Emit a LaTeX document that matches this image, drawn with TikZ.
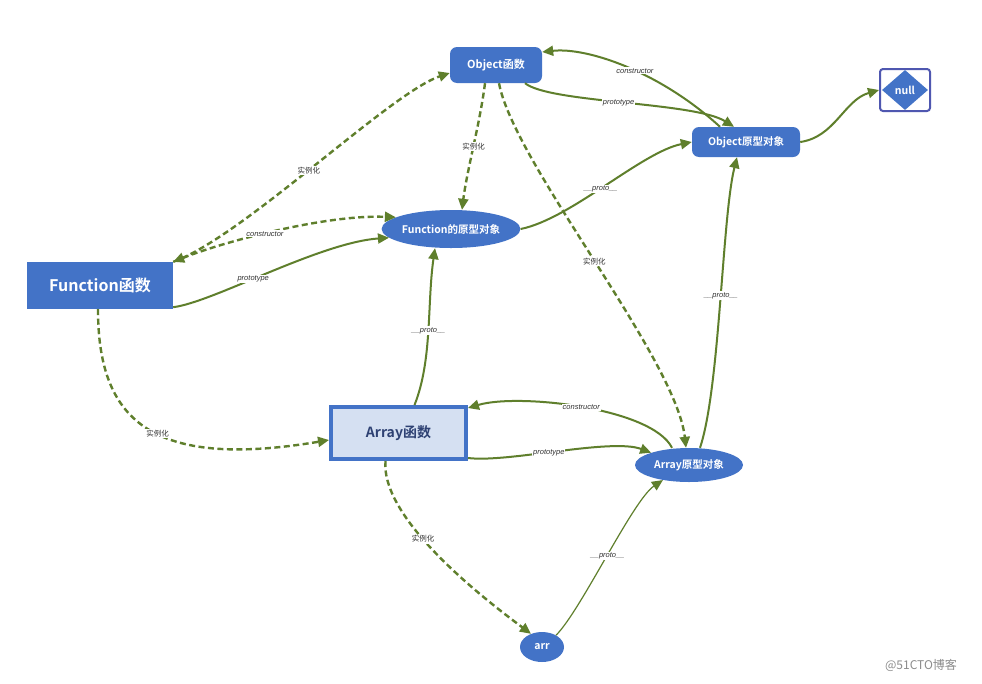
\documentclass[tikz,border=0pt]{standalone}
\usepackage{fontspec}
\setmainfont{Liberation Sans}
\newfontfamily\cjk{Noto Sans CJK SC}[BoldFont={Noto Sans CJK SC Bold}]
\usetikzlibrary{shapes.geometric,arrows.meta}
\definecolor{nblue}{HTML}{4373C7}
\definecolor{lgreen}{HTML}{5F7F2C}
\definecolor{afill}{HTML}{D5E0F2}
\definecolor{atext}{HTML}{2E4173}
\definecolor{nullborder}{HTML}{4F57B0}
\tikzset{
  rbox/.style={draw=none,fill=nblue,rounded corners=7pt,text=white,font=\cjk\bfseries\fontsize{11}{12}\selectfont,inner sep=0pt},
  ellnode/.style={ellipse,fill=nblue,text=white,font=\cjk\bfseries\fontsize{10.5}{12}\selectfont,inner sep=0pt},
  link/.style={lgreen,line width=2pt,-{Triangle[length=11pt,width=10pt]}},
  dlink/.style={link,line width=2.4pt,dash pattern=on 6pt off 3.5pt},
  lbl/.style={fill=white,inner sep=1pt,text=black!80,font=\fontsize{7.5}{8}\selectfont\itshape},
  clbl/.style={fill=white,inner sep=1pt,text=black!80,font=\cjk\fontsize{7.5}{8}\selectfont},
}
\begin{document}
\begin{tikzpicture}[x=1pt,y=-1pt]
\useasboundingbox[fill=white] (0,0) rectangle (982,683);
% nodes
\node[rbox,minimum width=92pt,minimum height=36pt] (ofun) at (496,65) {Object函数};
\node[rbox,minimum width=108pt,minimum height=30pt,font=\cjk\bfseries\fontsize{10.5}{12}\selectfont] (oproto) at (746,142) {Object原型对象};
\node[draw=nullborder,line width=2pt,rounded corners=3pt,minimum width=50pt,minimum height=42pt] (nullbox) at (905,90) {};
\node[diamond,fill=nblue,text=white,minimum width=46pt,minimum height=40pt,inner sep=0pt,font=\cjk\bfseries\fontsize{10.5}{12}\selectfont] (null) at (905,90) {null};
\node[ellnode,minimum width=136pt,minimum height=38pt] (fproto) at (451,229) {Function的原型对象};
\node[fill=nblue,text=white,minimum width=146pt,minimum height=47pt,inner sep=0pt,font=\cjk\bfseries\fontsize{16}{18}\selectfont] (ffun) at (100,285.5) {Function函数};
\node[draw=nblue,line width=4pt,fill=afill,text=atext,minimum width=135pt,minimum height=52pt,inner sep=0pt,font=\cjk\bfseries\fontsize{14}{16}\selectfont] (afun) at (398.5,433) {Array函数};
\node[ellnode,minimum width=108pt,minimum height=34pt] (aproto) at (689,465) {Array原型对象};
\node[ellnode,minimum width=44pt,minimum height=30pt] (arr) at (542,647) {arr};
\node[text=black!45,font=\cjk\fontsize{12}{14}\selectfont,inner sep=0pt] (wm) at (921,665) {@51CTO博客};
% connectors
\draw[link] ([xshift=-26pt]oproto.north) .. controls +(-60,-55) and +(45,-5) .. ([yshift=13pt]ofun.east)
  node[lbl,pos=0.45] {constructor};
\draw[link] ([xshift=29pt]ofun.south) .. controls +(25,20) and +(-40,-25) .. ([xshift=-12pt]oproto.north)
  node[lbl,pos=0.48] {prototype};
\draw[link] (oproto.east) .. controls +(35,-5) and +(-35,10) .. (nullbox.west);
\draw[link] (fproto.east) .. controls +(50,-10) and +(-50,10) .. (oproto.west)
  node[lbl,pos=0.47] {\_\_proto\_\_};
\draw[dlink] ([xshift=-11pt]ofun.south) .. controls +(-5,40) and +(5,-40) .. ([xshift=11pt]fproto.north)
  node[clbl,pos=0.5] {实例化};
\draw[dlink] ([xshift=3pt]ofun.south) .. controls +(15,80) and +(-10,-90) .. ([xshift=-3pt]aproto.north)
  node[clbl,pos=0.5] {实例化};
\draw[dlink] (ffun.north east) .. controls +(70,-25) and +(-60,20) .. ([yshift=-8pt]ofun.west)
  node[clbl,pos=0.48] {实例化};
\draw[dlink,{Triangle[length=11pt,width=10pt]}-{Triangle[length=11pt,width=10pt]}] (ffun.north east) .. controls +(50,-20) and +(-70,-3) .. (fproto.168)
  node[lbl,pos=0.45] {constructor};
\draw[link] ([yshift=2pt]ffun.south east) .. controls +(40,-5) and +(-70,5) .. (fproto.188)
  node[lbl,pos=0.43] {prototype};
\draw[dlink] ([xshift=-2pt]ffun.south) .. controls +(0,110) and +(-179,30) .. ([yshift=-7pt]afun.west)
  node[clbl,pos=0.55] {实例化};
\draw[link] ([xshift=16pt]afun.north) .. controls +(18,-45) and +(-8,55) .. ([xshift=-16pt]fproto.south)
  node[lbl,pos=0.5] {\_\_proto\_\_};
\draw[link] ([xshift=-17pt]aproto.north) .. controls +(-20,-40) and +(50,-15) .. ([yshift=-3pt]afun.north east)
  node[lbl,pos=0.5] {constructor};
\draw[link] ([yshift=3pt]afun.south east) .. controls +(40,5) and +(-40,-15) .. (aproto.162)
  node[lbl,pos=0.45] {prototype};
\draw[link] ([xshift=11pt]aproto.north) .. controls +(20,-60) and +(-15,60) .. ([xshift=-9pt]oproto.south)
  node[lbl,pos=0.52] {\_\_proto\_\_};
\draw[dlink] ([xshift=-13pt]afun.south) .. controls +(-5,60) and +(-40,-30) .. (arr.130)
  node[clbl,pos=0.4] {实例化};
\draw[link,line width=1.2pt] (arr.40) .. controls +(25,-25) and +(-30,20) .. (aproto.-150)
  node[lbl,pos=0.5] {\_\_proto\_\_};
\end{tikzpicture}
\end{document}
